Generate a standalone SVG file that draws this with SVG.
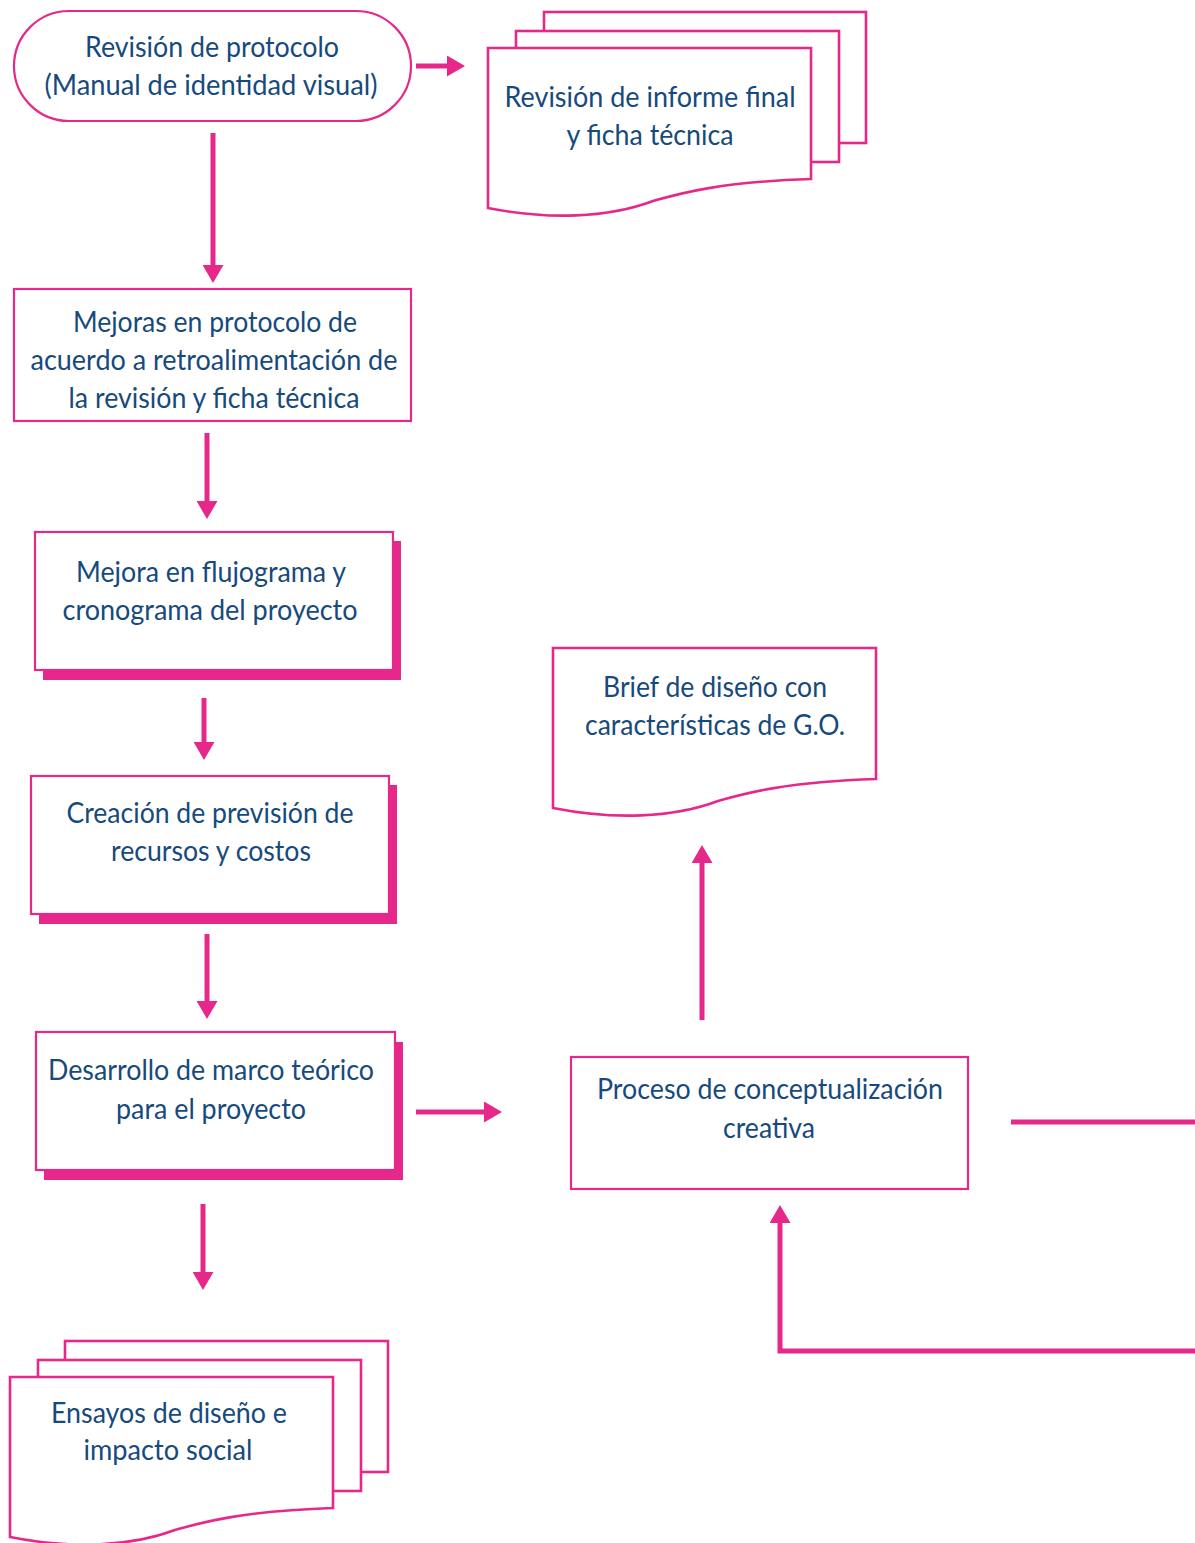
<svg xmlns="http://www.w3.org/2000/svg" width="1195" height="1543" viewBox="0 0 1195 1543">
<style>
.b{fill:#fff;stroke:#E6288A;stroke-width:2.2}
.sh{fill:#E6288A}
.doc{fill:#fff;stroke:#E6288A;stroke-width:2.6}
.t{font-family:Lato,"Liberation Sans",sans-serif;font-size:28px;fill:#174A7C;text-anchor:middle}
.c{fill:none;stroke:#E6288A;stroke-width:5}
</style>
<defs>
<marker id="ah" markerUnits="userSpaceOnUse" markerWidth="18" markerHeight="21" refX="0" refY="10.5" orient="auto" viewBox="0 0 18 21">
<path d="M0,0 L18,10.5 L0,21 Z" fill="#E6288A"/>
</marker>
<path id="front" d="M0,0 H323 V131 C230,134 190,146 165,153 C120,170 60,172 0,160 Z"/>
</defs>
<rect width="1195" height="1543" fill="#fff"/>

<g id="connectors">
<line class="c" x1="416" y1="66" x2="447" y2="66" marker-end="url(#ah)"/>
<line class="c" x1="213" y1="133" x2="213" y2="265" marker-end="url(#ah)"/>
<line class="c" x1="207" y1="433" x2="207" y2="501" marker-end="url(#ah)"/>
<line class="c" x1="204" y1="698" x2="204" y2="742" marker-end="url(#ah)"/>
<line class="c" x1="207" y1="934" x2="207" y2="1001" marker-end="url(#ah)"/>
<line class="c" x1="416" y1="1112" x2="484" y2="1112" marker-end="url(#ah)"/>
<line class="c" x1="203" y1="1204" x2="203" y2="1272" marker-end="url(#ah)"/>
<line class="c" x1="702" y1="1020" x2="702" y2="863" marker-end="url(#ah)"/>
<line class="c" x1="1011" y1="1122" x2="1195" y2="1122"/>
<polyline class="c" points="1195,1351 780,1351 780,1223" marker-end="url(#ah)"/>
</g>

<g id="n1">
<rect class="b" x="14" y="11" width="397" height="110" rx="55" ry="55"/>
<text class="t" x="212" y="57" textLength="254" lengthAdjust="spacingAndGlyphs">Revisión de protocolo</text>
<text class="t" x="211" y="95" textLength="333" lengthAdjust="spacingAndGlyphs">(Manual de identidad visual)</text>
</g>

<g id="n2">
<rect class="doc" x="544" y="12" width="322" height="131"/>
<rect class="doc" x="516" y="31" width="323" height="131"/>
<use href="#front" class="doc" x="488" y="48"/>
<text class="t" x="650" y="107" textLength="291" lengthAdjust="spacingAndGlyphs">Revisión de informe final</text>
<text class="t" x="650" y="145" textLength="167" lengthAdjust="spacingAndGlyphs">y ficha técnica</text>
</g>

<g id="n3">
<rect class="b" x="14" y="289" width="397" height="132"/>
<text class="t" x="215" y="332" textLength="284" lengthAdjust="spacingAndGlyphs">Mejoras en protocolo de</text>
<text class="t" x="214" y="370" textLength="367" lengthAdjust="spacingAndGlyphs">acuerdo a retroalimentación de</text>
<text class="t" x="214" y="408" textLength="291" lengthAdjust="spacingAndGlyphs">la revisión y ficha técnica</text>
</g>

<g id="n4">
<rect class="sh" x="43" y="541" width="358" height="139"/>
<rect class="b" x="35" y="532" width="358" height="138"/>
<text class="t" x="211" y="582" textLength="270" lengthAdjust="spacingAndGlyphs">Mejora en flujograma y</text>
<text class="t" x="210" y="620" textLength="295" lengthAdjust="spacingAndGlyphs">cronograma del proyecto</text>
</g>

<g id="n5">
<rect class="sh" x="39" y="785" width="358" height="139"/>
<rect class="b" x="31" y="776" width="358" height="138"/>
<text class="t" x="210" y="823" textLength="287" lengthAdjust="spacingAndGlyphs">Creación de previsión de</text>
<text class="t" x="211" y="861" textLength="200" lengthAdjust="spacingAndGlyphs">recursos y costos</text>
</g>

<g id="n6">
<rect class="sh" x="44" y="1042" width="359" height="138"/>
<rect class="b" x="36" y="1032" width="359" height="138"/>
<text class="t" x="211" y="1080" textLength="326" lengthAdjust="spacingAndGlyphs">Desarrollo de marco teórico</text>
<text class="t" x="211" y="1119" textLength="190" lengthAdjust="spacingAndGlyphs">para el proyecto</text>
</g>

<g id="n7">
<use href="#front" class="doc" x="553" y="648"/>
<text class="t" x="715" y="697" textLength="224" lengthAdjust="spacingAndGlyphs">Brief de diseño con</text>
<text class="t" x="715" y="735" textLength="260" lengthAdjust="spacingAndGlyphs">características de G.O.</text>
</g>

<g id="n8">
<rect class="b" x="571" y="1057" width="397" height="132"/>
<text class="t" x="770" y="1099" textLength="346" lengthAdjust="spacingAndGlyphs">Proceso de conceptualización</text>
<text class="t" x="769" y="1138" textLength="92" lengthAdjust="spacingAndGlyphs">creativa</text>
</g>

<g id="n9">
<rect class="doc" x="65" y="1341" width="323" height="131"/>
<rect class="doc" x="38" y="1360" width="323" height="131"/>
<use href="#front" class="doc" x="10" y="1377"/>
<text class="t" x="169" y="1423" textLength="236" lengthAdjust="spacingAndGlyphs">Ensayos de diseño e</text>
<text class="t" x="168" y="1460" textLength="169" lengthAdjust="spacingAndGlyphs">impacto social</text>
</g>
</svg>
